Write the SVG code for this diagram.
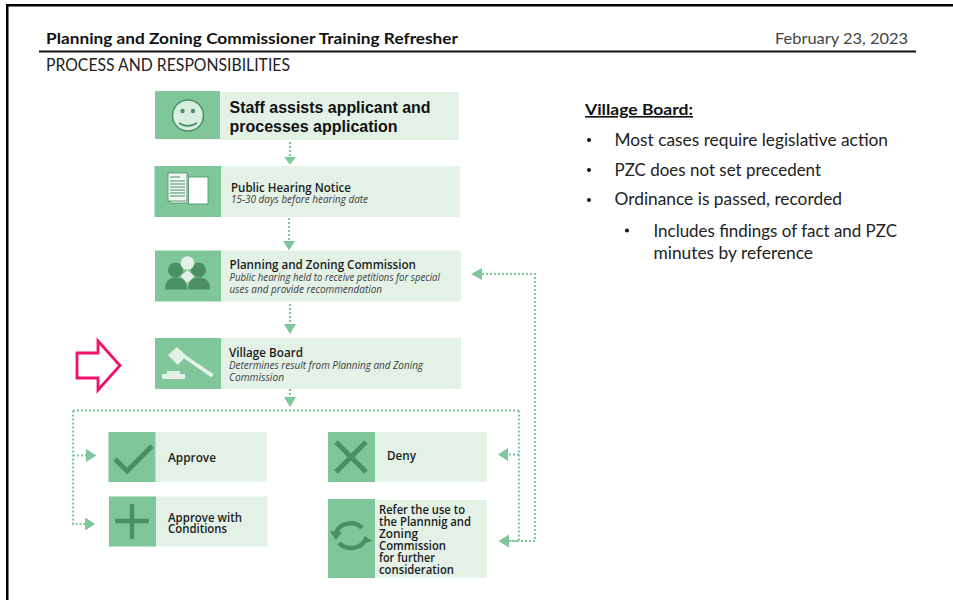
<svg xmlns="http://www.w3.org/2000/svg" width="953" height="600" viewBox="0 0 953 600">
<style>
.ic{fill:#7fc79a}.lt{fill:#e3f1e7}
.dot{fill:none;stroke:#7fc79a;stroke-width:2.200;stroke-dasharray:2 2}
.ah{fill:#7fc79a}
.dk{fill:#4a8f66}.dks{fill:none;stroke:#4a8f66}
.gt{font-family:"Open Sans","Noto Sans",sans-serif;fill:#1c1c1c;font-size:12px;font-weight:600}
.gi{font-family:"Open Sans","Noto Sans",sans-serif;fill:#3c3c3c;font-size:11px;font-style:italic;font-weight:400}
.c{font-family:"Lato","Open Sans",sans-serif;fill:#222;font-size:17px}
.h{font-family:"Lato","Inter",sans-serif;fill:#111;font-size:15px;font-weight:700}
</style>
<rect width="953" height="600" fill="#fff"/>
<g id="slide-frame">
<rect x="6" y="4" width="947" height="2.500" fill="#000"/>
<rect x="6" y="4" width="2.500" height="596" fill="#000"/>
<rect x="39" y="50.500" width="877" height="2" fill="#111"/>
</g>
<g id="header">
<text class="h" x="46" y="44" textLength="412" lengthAdjust="spacingAndGlyphs">Planning and Zoning Commissioner Training Refresher</text>
<text class="c" x="775" y="44" textLength="133" lengthAdjust="spacingAndGlyphs" style="font-size:16px;fill:#444">February 23, 2023</text>
<text class="c" x="46" y="71" textLength="244" lengthAdjust="spacingAndGlyphs">PROCESS AND RESPONSIBILITIES</text>
</g>
<g id="connectors">
<path class="dot" d="M290 142V157M289 218V241M290 304V324M290 389V397"/>
<path class="dot" d="M73 410.500H519M73 410.500V524H85M73 455.500H86M519 410.500V541H509M519 454.500H508M509 541H535V274H482"/>
<path class="ah" d="M284 157H296L290 164.500ZM283 241H295L289 250.500ZM284 324H296L290 334ZM284 397H296L290 407ZM86 449L96.500 455.500L86 462ZM85 517.500L95 524L85 530.500ZM508 448L498 454.500L508 461ZM509 534.500L498.500 541L509 547.500ZM482 268L471 274L482 280Z"/>
</g>
<g id="node-staff">
<rect class="lt" x="220" y="92" width="239" height="48"/><rect class="ic" x="155" y="91" width="65" height="48"/>
<circle cx="188" cy="115.500" r="15.500" fill="#d9eee0" stroke="#4a8f66" stroke-width="1.500"/>
<circle class="dk" cx="182.500" cy="111" r="2.200"/><circle class="dk" cx="193" cy="111" r="2.200"/>
<path class="dks" stroke-width="2" d="M179 123Q187.500 129 197 123"/>
<text x="229.500" y="113" font-family="Liberation Sans" font-weight="700" font-size="16" fill="#111" textLength="201" lengthAdjust="spacingAndGlyphs">Staff assists applicant and</text>
<text x="229.500" y="132" font-family="Liberation Sans" font-weight="700" font-size="16" fill="#111" textLength="168" lengthAdjust="spacingAndGlyphs">processes application</text>
</g>
<g id="node-notice">
<rect class="lt" x="221" y="166" width="239" height="51"/><rect class="ic" x="154.500" y="166" width="66.500" height="51"/>
<rect x="170" y="175" width="18" height="28" fill="#e3f1e7" stroke="#4a8f66" stroke-width=".7"/>
<rect x="168" y="173" width="19" height="28" fill="#f0f7f2" stroke="#4a8f66" stroke-width=".8"/>
<rect x="188.500" y="177" width="19.500" height="27" fill="#fff" stroke="#4a8f66" stroke-width=".8"/>
<path class="dks" stroke-width="1" d="M170 177H180M170 181H185M170 184H185M170 187H185M170 190H185M170 193H185M170 196H185"/>
<text class="gt" x="231" y="192" textLength="120" lengthAdjust="spacingAndGlyphs">Public Hearing Notice</text>
<text class="gi" x="231" y="203" textLength="137" lengthAdjust="spacingAndGlyphs">15-30 days before hearing date</text>
</g>
<g id="node-pzc">
<rect class="lt" x="221" y="250.500" width="240" height="51"/><rect class="ic" x="155" y="250.500" width="66" height="51"/>
<circle class="dk" cx="175.500" cy="270" r="7.500"/><circle class="dk" cx="198.500" cy="270" r="7.500"/>
<path class="dk" d="M165 289.500Q165 277.500 176 277.500Q187 277.500 187 289.500ZM188 289.500Q188 277.500 199 277.500Q210 277.500 210 289.500Z"/>
<circle cx="187.500" cy="263" r="6.800" fill="#e3f1e7"/>
<path fill="#e3f1e7" d="M187.500 270.500L194.500 276L187.500 283L180.500 276Z"/>
<text class="gt" x="229.500" y="269" textLength="186.500" lengthAdjust="spacingAndGlyphs">Planning and Zoning Commission</text>
<text class="gi" x="229.500" y="281" textLength="210.500" lengthAdjust="spacingAndGlyphs">Public hearing held to receive petitions for special</text>
<text class="gi" x="229.500" y="293" textLength="152.500" lengthAdjust="spacingAndGlyphs">uses and provide recommendation</text>
</g>
<g id="node-village-board">
<rect class="lt" x="221" y="338" width="240" height="51"/><rect class="ic" x="155" y="338" width="66" height="51"/>
<path fill="#e3f1e7" d="M168 355L177 347L186.500 356L177.500 365ZM183.500 358L186 355.500L213.500 374L211.500 377.500Z"/>
<path fill="#e3f1e7" d="M167 371H180V374H185V379H162V374H167Z"/>
<text class="gt" x="229" y="357" textLength="74" lengthAdjust="spacingAndGlyphs">Village Board</text>
<text class="gi" x="229" y="369" textLength="194" lengthAdjust="spacingAndGlyphs">Determines result from Planning and Zoning</text>
<text class="gi" x="229" y="381" textLength="55" lengthAdjust="spacingAndGlyphs">Commission</text>
</g>
<g id="marker-arrow">
<path fill="none" stroke="#f0126a" stroke-width="2.800" d="M77 353H98V341L120 365.500L98 390V378H77Z"/>
</g>
<g id="node-approve">
<rect class="lt" x="155.500" y="432" width="111.500" height="50"/><rect class="ic" x="108.500" y="432" width="47" height="50"/>
<path class="dks" stroke-width="5" d="M115 459L127 471L152 446"/>
<text class="gt" x="168" y="462" textLength="48" lengthAdjust="spacingAndGlyphs">Approve</text>
</g>
<g id="node-deny">
<rect class="lt" x="375" y="432" width="112" height="50"/><rect class="ic" x="328" y="432" width="47" height="50"/>
<path class="dks" stroke-width="5" d="M336 442L366 472M366 442L336 472"/>
<text class="gt" x="387" y="460" textLength="29" lengthAdjust="spacingAndGlyphs">Deny</text>
</g>
<g id="node-approve-conditions">
<rect class="lt" x="156" y="496.500" width="111.500" height="50"/><rect class="ic" x="109" y="496.500" width="47" height="50"/>
<path class="dks" stroke-width="4.500" d="M132 504V539M115 521H149"/>
<text class="gt" x="168" y="522" textLength="74" lengthAdjust="spacingAndGlyphs">Approve with</text>
<text class="gt" x="168" y="533" textLength="59" lengthAdjust="spacingAndGlyphs">Conditions</text>
</g>
<g id="node-refer">
<rect class="lt" x="375" y="500" width="112" height="78"/><rect class="ic" x="328" y="499" width="47" height="79"/>
<path class="dks" stroke-width="4.500" d="M336 533A15 13 0 0 1 362 528M364 542A15 12 0 0 1 339 543"/>
<path class="dk" d="M329.500 531L342 532L336 540ZM360 544.500L372.500 541L365 536Z"/>
<g class="gt">
<text x="379" y="514" textLength="86" lengthAdjust="spacingAndGlyphs">Refer the use to</text>
<text x="379" y="526" textLength="92" lengthAdjust="spacingAndGlyphs">the Plannnig and</text>
<text x="379" y="538" textLength="39" lengthAdjust="spacingAndGlyphs">Zoning</text>
<text x="379" y="550" textLength="67" lengthAdjust="spacingAndGlyphs">Commission</text>
<text x="379" y="562" textLength="56" lengthAdjust="spacingAndGlyphs">for further</text>
<text x="379" y="574" textLength="75" lengthAdjust="spacingAndGlyphs">consideration</text>
</g>
</g>
<g id="side-text">
<text class="c" x="585" y="115" textLength="108" lengthAdjust="spacingAndGlyphs" text-decoration="underline" style="font-size:16px;font-weight:700;fill:#111">Village Board:</text>
<g fill="#111"><circle cx="589" cy="140" r="2"/><circle cx="589" cy="170" r="2"/><circle cx="589" cy="200" r="2"/><circle cx="627" cy="230.500" r="2"/></g>
<g class="c" style="font-size:16.500px">
<text x="614.500" y="146" textLength="273.500" lengthAdjust="spacingAndGlyphs">Most cases require legislative action</text>
<text x="614.500" y="176" textLength="206.500" lengthAdjust="spacingAndGlyphs">PZC does not set precedent</text>
<text x="614.500" y="205" textLength="227.500" lengthAdjust="spacingAndGlyphs">Ordinance is passed, recorded</text>
<text x="653.500" y="237" textLength="243.500" lengthAdjust="spacingAndGlyphs">Includes findings of fact and PZC</text>
<text x="653.500" y="259" textLength="159.500" lengthAdjust="spacingAndGlyphs">minutes by reference</text>
</g>
</g>
</svg>
